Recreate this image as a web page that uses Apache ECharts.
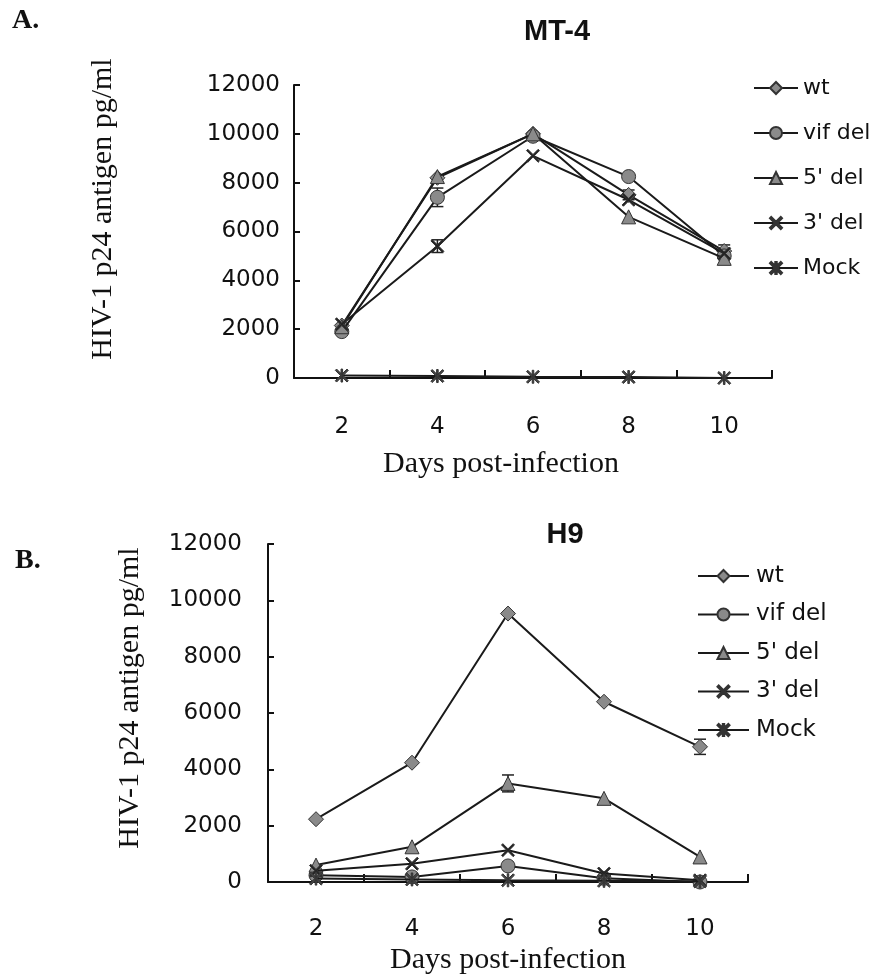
<!DOCTYPE html>
<html>
<head>
<meta charset="utf-8">
<script src="https://cdn.jsdelivr.net/npm/echarts@6/dist/echarts.min.js"></script>
<style>
html,body{margin:0;padding:0;background:#fff;}
#chart{width:875px;height:980px;}
</style>
</head>
<body>
<div id="chart"></div>
<script>
// ---- data ----
const days = ['2', '4', '6', '8', '10'];
const seriesNames = ['wt', 'vif del', "5' del", "3' del", 'Mock'];
const yTicks = [0, 2000, 4000, 6000, 8000, 10000, 12000];

// Panel A: MT-4
const mt4Wt   = [2150, 8200, 10000, 7500, 5200];
const mt4Vif  = [1900, 7400, 9900, 8250, 5000];
const mt4Del5 = [2100, 8250, 10000, 6600, 4900];
const mt4Del3 = [2200, 5400, 9100, 7300, 5100];
const mt4Mock = [100, 80, 50, 40, 0];

const mt4WtErr   = [0, 0, 0, 200, 250];
const mt4VifErr  = [0, 380, 0, 0, 0];
const mt4Del5Err = [0, 0, 0, 0, 0];
const mt4Del3Err = [0, 260, 0, 0, 0];
const mt4MockErr = [0, 0, 0, 0, 0];

// Panel B: H9
const h9Wt   = [2230, 4235, 9530, 6400, 4800];
const h9Vif  = [240, 180, 570, 130, 0];
const h9Del5 = [600, 1250, 3500, 2970, 890];
const h9Del3 = [400, 650, 1130, 300, 60];
const h9Mock = [120, 90, 60, 40, 20];

const h9WtErr   = [0, 0, 0, 0, 270];
const h9VifErr  = [0, 0, 0, 0, 0];
const h9Del5Err = [0, 0, 300, 0, 0];
const h9Del3Err = [0, 0, 0, 0, 0];
const h9MockErr = [0, 0, 0, 0, 0];

// ---- styling ----
const SANS = 'DejaVu Sans';
const X_PATH = 'path://M1,0 L5,4 L9,0 L10,1 L6,5 L10,9 L9,10 L5,6 L1,10 L0,9 L4,5 L0,1 Z';
const AST_PATH = 'path://M1,0 L5,4 L9,0 L10,1 L6,5 L10,9 L9,10 L5,6 L1,10 L0,9 L4,5 L0,1 Z M4.4,0 L5.6,0 L5.6,10 L4.4,10 Z';
const symbols = ['diamond', 'circle', 'triangle', X_PATH, AST_PATH];
const symbolSizes = [15, 14, 14, 13, 13];
const fills = ['#8a8a8a', '#8a8a8a', '#8a8a8a', '#222', '#444'];

function lineSeries(name, idx, data, axisIdx) {
  return {
    name: name,
    type: 'line',
    xAxisIndex: axisIdx,
    yAxisIndex: axisIdx,
    data: data,
    symbol: symbols[idx],
    symbolSize: symbolSizes[idx],
    showAllSymbol: true,
    z: 3 + idx,
    lineStyle: { color: '#1a1a1a', width: 2 },
    itemStyle: { color: fills[idx], borderColor: '#333', borderWidth: 1 },
    emphasis: { disabled: true },
    animation: false
  };
}

function errSeries(vals, errs, axisIdx) {
  const data = [];
  for (let s = 0; s < vals.length; s++) {
    for (let i = 0; i < vals[s].length; i++) {
      if (errs[s][i] > 0) data.push([i, vals[s][i], errs[s][i]]);
    }
  }
  return {
    type: 'custom',
    name: 'err' + axisIdx,
    xAxisIndex: axisIdx,
    yAxisIndex: axisIdx,
    data: data,
    z: 2,
    silent: true,
    animation: false,
    encode: { x: 0, y: 1 },
    renderItem: function (params, api) {
      const i = api.value(0), v = api.value(1), e = api.value(2);
      const hi = api.coord([i, v + e]);
      const lo = api.coord([i, v - e]);
      const cw = 6;
      const st = { stroke: '#222', lineWidth: 1.5 };
      return {
        type: 'group',
        children: [
          { type: 'line', shape: { x1: hi[0], y1: hi[1], x2: lo[0], y2: lo[1] }, style: st },
          { type: 'line', shape: { x1: hi[0] - cw, y1: hi[1], x2: hi[0] + cw, y2: hi[1] }, style: st },
          { type: 'line', shape: { x1: lo[0] - cw, y1: lo[1], x2: lo[0] + cw, y2: lo[1] }, style: st }
        ]
      };
    }
  };
}

function xAxisCfg(gridIdx, margin) {
  return {
    type: 'category',
    gridIndex: gridIdx,
    data: days,
    boundaryGap: true,
    axisLine: { lineStyle: { color: '#111', width: 2 } },
    axisTick: { show: true, inside: true, length: 8, lineStyle: { color: '#111', width: 2 } },
    axisLabel: { fontFamily: SANS, fontSize: 23, color: '#111', margin: margin },
    splitLine: { show: false }
  };
}
function yAxisCfg(gridIdx, margin) {
  return {
    type: 'value',
    gridIndex: gridIdx,
    min: yTicks[0],
    max: yTicks[yTicks.length - 1],
    interval: yTicks[1] - yTicks[0],
    axisLine: { show: true, lineStyle: { color: '#111', width: 2 } },
    axisTick: { show: true, inside: true, length: 6, lineStyle: { color: '#111', width: 2 } },
    axisLabel: {
      fontFamily: SANS, fontSize: 23, color: '#111', margin: margin,
      formatter: function (v) { return String(v); }
    },
    splitLine: { show: false }
  };
}

const series = [];
const mt4Vals = [mt4Wt, mt4Vif, mt4Del5, mt4Del3, mt4Mock];
const mt4Errs = [mt4WtErr, mt4VifErr, mt4Del5Err, mt4Del3Err, mt4MockErr];
const h9Vals = [h9Wt, h9Vif, h9Del5, h9Del3, h9Mock];
const h9Errs = [h9WtErr, h9VifErr, h9Del5Err, h9Del3Err, h9MockErr];
series.push(errSeries(mt4Vals, mt4Errs, 0));
series.push(errSeries(h9Vals, h9Errs, 1));
seriesNames.forEach((n, i) => series.push(lineSeries(n, i, mt4Vals[i], 0)));
seriesNames.forEach((n, i) => series.push(lineSeries(n, i, h9Vals[i], 1)));

const chart = echarts.init(document.getElementById('chart'), null, { renderer: 'canvas' });
chart.setOption({
  backgroundColor: '#fff',
  animation: false,
  grid: [
    { left: 294, top: 85, width: 478, height: 293 },
    { left: 268, top: 544, width: 480, height: 338 }
  ],
  xAxis: [xAxisCfg(0, 38), xAxisCfg(1, 36)],
  yAxis: [yAxisCfg(0, 14), yAxisCfg(1, 26)],
  legend: [
    {
      data: seriesNames,
      orient: 'vertical',
      left: 748,
      top: 71,
      itemWidth: 44,
      itemHeight: 15,
      itemGap: 21,
      selectedMode: false,
      textStyle: { fontFamily: SANS, fontSize: 22, color: '#111', lineHeight: 24, padding: [0, 0, 0, 0] }
    },
    {
      data: seriesNames,
      orient: 'vertical',
      left: 692,
      top: 558,
      itemWidth: 51,
      itemHeight: 15,
      itemGap: 12.5,
      selectedMode: false,
      textStyle: { fontFamily: SANS, fontSize: 23, color: '#111', lineHeight: 26, padding: [0, 0, 0, 2] }
    }
  ],
  graphic: [
    { type: 'text', x: 12, y: 21, style: { text: 'A.', font: 'bold 28px "Liberation Serif"', fill: '#111', textVerticalAlign: 'middle' } },
    { type: 'text', x: 15, y: 561, style: { text: 'B.', font: 'bold 28px "Liberation Serif"', fill: '#111', textVerticalAlign: 'middle' } },
    { type: 'text', x: 557, y: 32, style: { text: 'MT-4', font: 'bold 29px "Liberation Sans"', fill: '#111', textAlign: 'center', textVerticalAlign: 'middle' } },
    { type: 'text', x: 565, y: 535, style: { text: 'H9', font: 'bold 29px "Liberation Sans"', fill: '#111', textAlign: 'center', textVerticalAlign: 'middle' } },
    { type: 'text', x: 103, y: 209, rotation: Math.PI / 2, style: { text: 'HIV-1 p24 antigen pg/ml', font: '30px "Liberation Serif"', fill: '#111', textAlign: 'center', textVerticalAlign: 'middle' } },
    { type: 'text', x: 130, y: 698, rotation: Math.PI / 2, style: { text: 'HIV-1 p24 antigen pg/ml', font: '30px "Liberation Serif"', fill: '#111', textAlign: 'center', textVerticalAlign: 'middle' } },
    { type: 'text', x: 501, y: 464, style: { text: 'Days post-infection', font: '30px "Liberation Serif"', fill: '#111', textAlign: 'center', textVerticalAlign: 'middle' } },
    { type: 'text', x: 508, y: 960, style: { text: 'Days post-infection', font: '30px "Liberation Serif"', fill: '#111', textAlign: 'center', textVerticalAlign: 'middle' } }
  ],
  series: series
});
</script>
</body>
</html>
